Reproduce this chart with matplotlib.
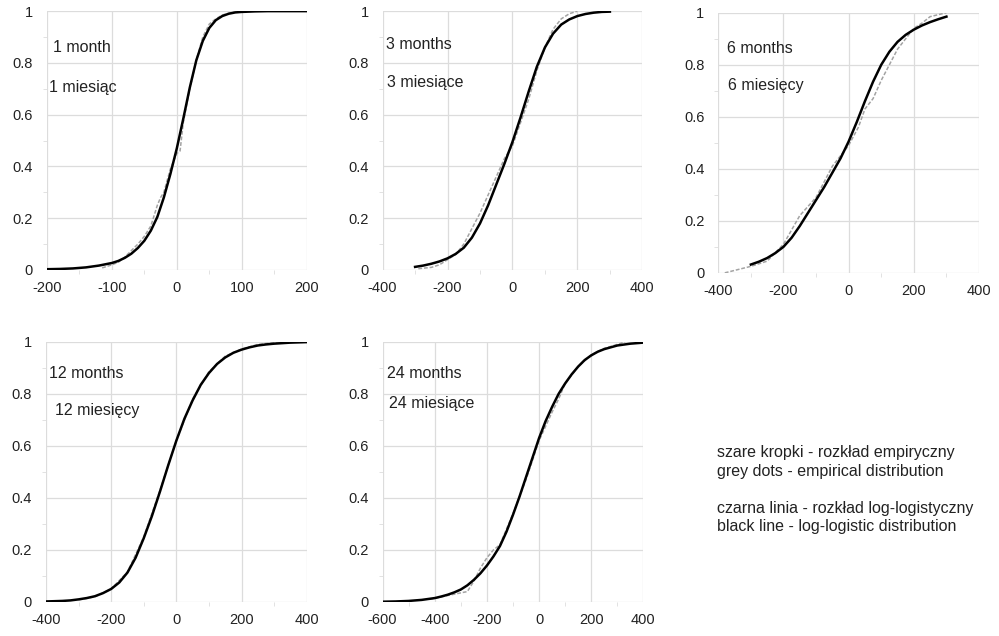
import numpy as np
import matplotlib
matplotlib.use("Agg")
import matplotlib.pyplot as plt

plt.rcParams['font.family'] = ['Liberation Sans', 'DejaVu Sans']
plt.rcParams['axes.unicode_minus'] = False

# 1 month
m1_fit_x = [-200, -180, -160, -140, -120, -100, -90, -80, -70, -60, -50, -40, -30, -20, -10, 0,
            10, 20, 30, 40, 50, 60, 70, 80, 90, 100, 120, 140, 160, 200]
m1_fit_y = [0.003, 0.004, 0.006, 0.01, 0.017, 0.027, 0.035, 0.047, 0.063, 0.085, 0.113, 0.152, 0.205, 0.28, 0.37, 0.47,
            0.585, 0.705, 0.81, 0.885, 0.935, 0.965, 0.981, 0.99, 0.995, 0.997, 0.999, 1.0, 1.0, 1.0]
m1_emp_x = [-115, -100, -90, -80, -70, -60, -50, -40, -30, -25, -20, -10, 0, 5, 10, 20, 30, 40, 50, 60, 70, 85, 100]
m1_emp_y = [0.008, 0.02, 0.03, 0.05, 0.075, 0.1, 0.13, 0.17, 0.25, 0.28, 0.3, 0.39, 0.45, 0.46, 0.57,
            0.7, 0.81, 0.9, 0.95, 0.97, 0.985, 0.995, 1.0]

# 3 months
m3_fit_x = [-300, -275, -250, -225, -200, -175, -150, -125, -100, -75, -50, -25, 0,
            25, 50, 75, 100, 125, 150, 175, 200, 225, 250, 275, 300]
m3_fit_y = [0.012, 0.017, 0.024, 0.033, 0.045, 0.062, 0.086, 0.125, 0.18, 0.25, 0.33, 0.41, 0.495,
            0.59, 0.69, 0.785, 0.86, 0.913, 0.948, 0.968, 0.981, 0.989, 0.994, 0.997, 0.998]
m3_emp_x = [-290, -250, -225, -200, -175, -150, -125, -100, -75, -50, -25, 0, 25, 50, 75, 100, 125, 150, 175, 200]
m3_emp_y = [0.005, 0.01, 0.02, 0.04, 0.06, 0.1, 0.16, 0.22, 0.29, 0.36, 0.43, 0.48, 0.57, 0.66, 0.77,
            0.86, 0.93, 0.97, 0.99, 1.0]

# 6 months
m6_fit_x = [-300, -275, -250, -225, -200, -175, -150, -125, -100, -75, -50, -25, 0,
            25, 50, 75, 100, 125, 150, 175, 200, 225, 250, 275, 300]
m6_fit_y = [0.032, 0.043, 0.057, 0.076, 0.1, 0.135, 0.18, 0.23, 0.28, 0.33, 0.385, 0.44, 0.505,
            0.58, 0.66, 0.735, 0.8, 0.85, 0.888, 0.915, 0.935, 0.951, 0.964, 0.975, 0.985]
m6_emp_x = [-380, -300, -250, -200, -150, -100, -50, 0, 30, 50, 75, 100, 150, 175, 200, 225, 250, 300]
m6_emp_y = [0.0, 0.025, 0.045, 0.11, 0.22, 0.29, 0.41, 0.49, 0.56, 0.63, 0.67, 0.74, 0.86, 0.9, 0.94,
            0.96, 0.985, 1.0]

# 12 months
m12_fit_x = [-400, -375, -350, -325, -300, -275, -250, -225, -200, -175, -150, -125, -100, -75, -50, -25, 0,
             25, 50, 75, 100, 125, 150, 175, 200, 225, 250, 275, 300, 325, 350, 375, 400]
m12_fit_y = [0.002, 0.003, 0.004, 0.006, 0.01, 0.015, 0.022, 0.034, 0.05, 0.075, 0.113, 0.17, 0.245, 0.33, 0.425, 0.525, 0.62,
             0.705, 0.775, 0.835, 0.88, 0.915, 0.94, 0.958, 0.97, 0.979, 0.986, 0.99, 0.993, 0.995, 0.997, 0.998, 0.999]
m12_emp_x = [-300, -250, -200, -150, -100, -50, 0, 50, 100, 150, 200, 250, 300, 350]
m12_emp_y = [0.008, 0.02, 0.05, 0.115, 0.25, 0.43, 0.62, 0.78, 0.885, 0.945, 0.972, 0.99, 0.997, 1.0]

# 24 months
m24_fit_x = [-600, -550, -500, -450, -400, -375, -350, -325, -300, -275, -250, -225, -200, -175, -150, -125, -100,
             -75, -50, -25, 0, 25, 50, 75, 100, 125, 150, 175, 200, 225, 250, 300, 350, 400]
m24_fit_y = [0.001, 0.002, 0.004, 0.008, 0.015, 0.021, 0.028, 0.037, 0.048, 0.064, 0.085, 0.11, 0.14, 0.175, 0.215, 0.27, 0.335,
             0.405, 0.48, 0.555, 0.63, 0.695, 0.75, 0.8, 0.84, 0.875, 0.905, 0.93, 0.948, 0.962, 0.972, 0.986, 0.993, 0.997]
m24_emp_x = [-420, -350, -300, -275, -250, -225, -200, -175, -150, -125, -100, -50, 0,
             50, 75, 100, 150, 200, 250, 300, 330]
m24_emp_y = [0.01, 0.025, 0.035, 0.04, 0.08, 0.13, 0.17, 0.2, 0.22, 0.28, 0.34, 0.47, 0.62,
             0.73, 0.78, 0.84, 0.905, 0.95, 0.975, 0.99, 1.0]

labels_en = ["1 month", "3 months", "6 months", "12 months", "24 months"]
labels_pl = ["1 miesiąc", "3 miesiące", "6 miesięcy", "12 miesięcy", "24 miesiące"]
x_ranges = [(-200, 200, 100), (-400, 400, 200), (-400, 400, 200), (-400, 400, 200), (-600, 400, 200)]

fits = [(m1_fit_x, m1_fit_y), (m3_fit_x, m3_fit_y), (m6_fit_x, m6_fit_y), (m12_fit_x, m12_fit_y), (m24_fit_x, m24_fit_y)]
emps = [(m1_emp_x, m1_emp_y), (m3_emp_x, m3_emp_y), (m6_emp_x, m6_emp_y), (m12_emp_x, m12_emp_y), (m24_emp_x, m24_emp_y)]

# axes boxes (left, bottom, width, height) in figure fractions
boxes = [(0.047, 0.5755, 0.260, 0.407),
         (0.383, 0.5755, 0.260, 0.407),
         (0.719, 0.571, 0.261, 0.409),
         (0.046, 0.0535, 0.261, 0.409),
         (0.383, 0.0535, 0.261, 0.409)]
# text positions (axes fraction)
pos_en = [(0.023, 0.86), (0.014, 0.87), (0.033, 0.864), (0.013, 0.88), (0.015, 0.88)]
pos_pl = [(0.008, 0.705), (0.016, 0.723), (0.039, 0.719), (0.035, 0.736), (0.025, 0.764)]

fig = plt.figure(figsize=(9.99, 6.36), dpi=100)

for i in range(5):
    ax = fig.add_axes(boxes[i])
    lo, hi, step = x_ranges[i]
    ax.plot(*emps[i], color='#a3a3a3', lw=1.1, ls=(0, (2.5, 1.2)), zorder=2)
    ax.plot(*fits[i], color='black', lw=1.8, zorder=3, solid_joinstyle='round')
    ax.set_xlim(lo, hi)
    ax.set_ylim(0, 1)
    ax.set_xticks(np.arange(lo, hi + 1, step))
    ax.set_yticks([0, 0.2, 0.4, 0.6, 0.8, 1.0])
    ax.set_yticklabels(['0', '0.2', '0.4', '0.6', '0.8', '1'])
    ax.set_xticks(np.arange(lo + step / 2, hi, step), minor=True)
    ax.set_yticks(np.arange(0.1, 1.0, 0.2), minor=True)
    ax.grid(True, which='major', color='#dcdcdc', lw=0.9)
    ax.tick_params(which='major', length=0, labelsize=10.5, colors='#222222')
    ax.tick_params(axis='y', which='major', pad=10)
    ax.tick_params(axis='x', which='major', pad=8)
    ax.tick_params(which='minor', length=3, color='#dddddd')
    for s in ax.spines.values():
        s.set_visible(False)
    ax.text(*pos_en[i], labels_en[i], transform=ax.transAxes, fontsize=11.5, color='#222222', va='center')
    ax.text(*pos_pl[i], labels_pl[i], transform=ax.transAxes, fontsize=11.5, color='#222222', va='center')

legend_lines = ["szare kropki - rozkład empiryczny",
                "grey dots - empirical distribution",
                "",
                "czarna linia - rozkład log-logistyczny",
                "black line - log-logistic distribution"]
for k, line in enumerate(legend_lines):
    fig.text(0.7175, 1 - (453 + 18.5 * k) / 636, line, fontsize=11.5, color='#222222', va='center')

fig.savefig("out.png", dpi=100)
